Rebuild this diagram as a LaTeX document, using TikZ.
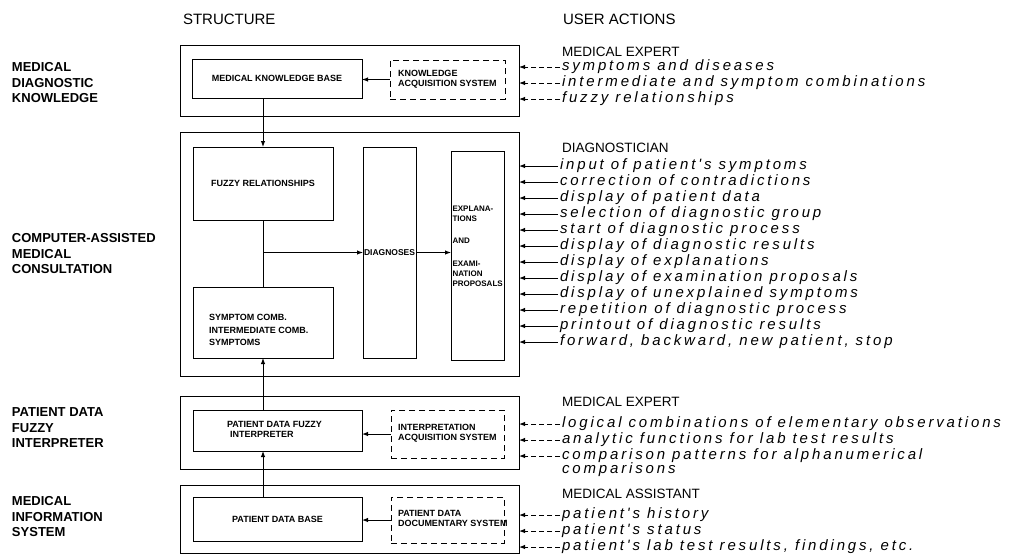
\documentclass[tikz,border=0pt]{standalone}
\usepackage{fontspec}
\setmainfont{Liberation Sans}
\newfontfamily\actfont[LetterSpace=19]{Liberation Sans}
\usetikzlibrary{arrows.meta,fit}

\begin{document}
\begin{tikzpicture}[x=1pt,y=-1pt,
  every node/.style={inner sep=0pt, outer sep=0pt},
  frame/.style={draw, line width=1pt, fit={#1}},
  blk/.style={draw, line width=1pt, fit={#1}},
  dblk/.style={draw, line width=1pt, dash pattern=on 6pt off 4pt, fit={#1}},
  boxtext/.style={font=\fontsize{9}{10}\bfseries\selectfont, align=left},
  title/.style={anchor=west, font=\fontsize{15}{17}\selectfont},
  layer/.style={anchor=west, align=left, font=\fontsize{13}{15.5}\bfseries\selectfont},
  role/.style={anchor=west, font=\fontsize{13.5}{15}\selectfont},
  act/.style={anchor=west, font=\actfont\itshape\fontsize{15}{16}\selectfont,
              text height=10.5pt, text depth=3pt},
  tip/.style={-{Latex[length=6pt,width=4.5pt]}, line width=1pt},
  uasolid/.style={tip},
  uadash/.style={tip, dash pattern=on 5pt off 3pt},
]
\useasboundingbox (0,0) rectangle (1017,555);

% column titles
\node[title] (hstruct) at (183,19) {STRUCTURE};
\node[title] (huser) at (563,19) {USER ACTIONS};

% layer names on the left
\node[layer] (l1) at (12,83) {MEDICAL\\DIAGNOSTIC\\KNOWLEDGE};
\node[layer] (l2) at (12,254) {COMPUTER-ASSISTED\\MEDICAL\\CONSULTATION};
\node[layer] (l3) at (12,428) {PATIENT DATA\\FUZZY\\INTERPRETER};
\node[layer] (l4) at (12,517) {MEDICAL\\INFORMATION\\SYSTEM};

% outer frames of the four layers
\node[frame={(180,45) (519,116)}] (o1) {};
\node[frame={(180,132) (519,376)}] (o2) {};
\node[frame={(180,396) (519,469)}] (o3) {};
\node[frame={(180,485) (519,553)}] (o4) {};

% knowledge layer
\node[blk={(192,59) (362,98)}] (mkb) {};
\node[boxtext] (mkbT) at (mkb.center) {MEDICAL KNOWLEDGE BASE};
\node[dblk={(390,60) (505,99)}] (kas) {};
\node[boxtext, anchor=west] (kasT) at (398,79.5) {KNOWLEDGE\\ACQUISITION SYSTEM};

% consultation layer
\node[blk={(193,147) (333,220)}] (fr) {};
\node[boxtext] (frT) at (fr.center) {FUZZY RELATIONSHIPS};
\node[blk={(193,287) (333,358)}] (sc) {};
\node[boxtext, anchor=west, font=\fontsize{9}{12.5}\bfseries\selectfont] (scT) at (209,330)
  {SYMPTOM COMB.\\INTERMEDIATE COMB.\\SYMPTOMS};
\node[blk={(363,147) (416,358)}] (dg) {};
\node[boxtext, font=\fontsize{8.5}{10}\bfseries\selectfont] (dgT) at (dg.center) {DIAGNOSES};
\node[blk={(451,151) (504,360)}] (ex) {};
\node[boxtext, anchor=north west, font=\fontsize{8}{10}\bfseries\selectfont] (exT) at (452.5,205.5)
  {EXPLANA-\\TIONS\\[12pt]AND\\[13.5pt]EXAMI-\\NATION\\PROPOSALS};

% interpreter layer
\node[blk={(193,410) (362,451)}] (pdfi) {};
\node[boxtext, anchor=west] (pdfiT) at (227,429) {PATIENT DATA FUZZY\\\hspace{3pt}INTERPRETER};
\node[dblk={(391,410) (504,458)}] (ias) {};
\node[boxtext, anchor=west] (iasT) at (398,433) {INTERPRETATION\\ACQUISITION SYSTEM};

% information layer
\node[blk={(193,497) (362,541)}] (pdb) {};
\node[boxtext] (pdbT) at (pdb.center) {PATIENT DATA BASE};
\node[dblk={(391,497) (504,543)}] (pdds) {};
\node[boxtext, anchor=west] (pddsT) at (398,518) {PATIENT DATA\\DOCUMENTARY SYSTEM};

% data flow inside the structure column
\draw[tip] (kas.west) -- (kas.west -| mkb.east);
\draw[tip] (fr.north |- mkb.south) -- (fr.north);
\coordinate (br) at (fr.south |- dg.west);
\draw[line width=1pt] (fr.south) -- (sc.north);
\draw[tip] (br) -- (dg.west);
\draw[tip] (dg.east) -- (dg.east -| ex.west);
\draw[tip] (pdb.north -| sc.south) -- (pdfi.south -| sc.south);
\draw[tip] (pdfi.north -| sc.south) -- (sc.south);
\draw[tip] (ias.west) -- (ias.west -| pdfi.east);
\draw[tip] (pdds.west) -- (pdds.west -| pdb.east);

% user actions: medical expert (knowledge)
\node[role] (r1) at (562,52) {MEDICAL EXPERT};
\node[act] (a1) at (562,67) {symptoms and diseases};
\node[act] (a2) at (562,83) {intermediate and symptom combinations};
\node[act] (a3) at (562,99) {fuzzy relationships};
\foreach \n in {a1,a2,a3}
  \draw[uadash] ([xshift=-2pt]\n.west) -- (\n.west -| o1.east);

% user actions: diagnostician
\node[role] (r2) at (562,148) {DIAGNOSTICIAN};
\node[act] (d1) at (560,166) {input of patient's symptoms};
\node[act] (d2) at (560,182) {correction of contradictions};
\node[act] (d3) at (560,198) {display of patient data};
\node[act] (d4) at (560,214) {selection of diagnostic group};
\node[act] (d5) at (560,230) {start of diagnostic process};
\node[act] (d6) at (560,246) {display of diagnostic results};
\node[act] (d7) at (560,262) {display of explanations};
\node[act] (d8) at (560,278) {display of examination proposals};
\node[act] (d9) at (560,294) {display of unexplained symptoms};
\node[act] (d10) at (560,310) {repetition of diagnostic process};
\node[act] (d11) at (560,326) {printout of diagnostic results};
\node[act] (d12) at (560,342) {forward, backward, new patient, stop};
\foreach \n in {d1,d2,d3,d4,d5,d6,d7,d8,d9,d10,d11,d12}
  \draw[uasolid] ([xshift=-2pt]\n.west) -- (\n.west -| o2.east);

% user actions: medical expert (interpreter)
\node[role] (r3) at (562,402) {MEDICAL EXPERT};
\node[act] (e1) at (562,424) {logical combinations of elementary observations};
\node[act] (e2) at (562,440) {analytic functions for lab test results};
\node[act] (e3) at (562,456) {comparison patterns for alphanumerical};
\node[act] (e3b) at (562,470) {comparisons};
\foreach \n in {e1,e2,e3}
  \draw[uadash] ([xshift=-2pt]\n.west) -- (\n.west -| o3.east);

% user actions: medical assistant
\node[role] (r4) at (562,494) {MEDICAL ASSISTANT};
\node[act] (m1) at (562,515) {patient's history};
\node[act] (m2) at (562,531) {patient's status};
\node[act] (m3) at (562,547) {patient's lab test results, findings, etc.};
\foreach \n in {m1,m2,m3}
  \draw[uadash] ([xshift=-2pt]\n.west) -- (\n.west -| o4.east);
\end{tikzpicture}
\end{document}
